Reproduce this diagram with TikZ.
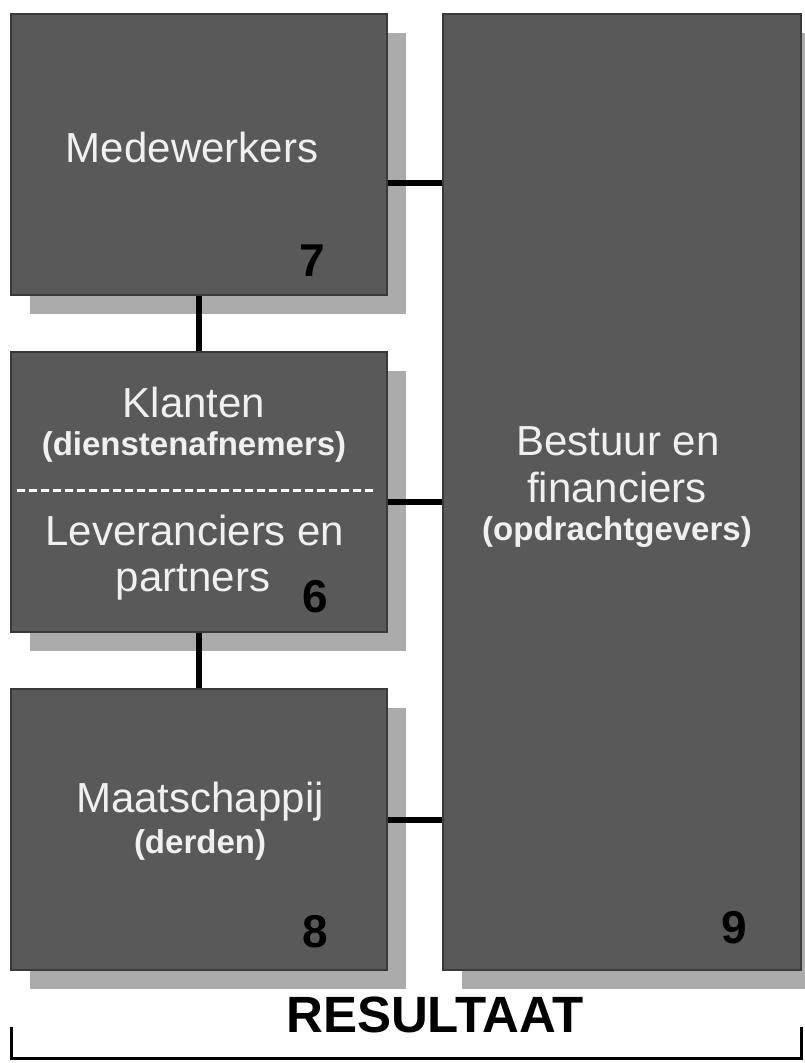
\documentclass[tikz,border=0pt]{standalone}
\usepackage{fontspec}
\setmainfont{Liberation Sans}
\usepackage{tikz}
\usetikzlibrary{positioning}
\usetikzlibrary{shadows}
\definecolor{boxgray}{HTML}{595959}
\definecolor{shadegray}{HTML}{ABABAB}
\definecolor{edgegray}{HTML}{3A3A3A}
\tikzstyle{area}=[draw=edgegray, line width=1.2pt, fill=boxgray, rectangle, inner sep=0pt,
  drop shadow={shadow xshift=19pt, shadow yshift=-19pt, fill=shadegray, opacity=1}]
\tikzstyle{title}=[anchor=base, text=white!94!black, inner sep=0pt, font=\fontsize{42}{50}\selectfont]
\tikzstyle{sub}=[anchor=base, text=white!94!black, inner sep=0pt, font=\bfseries\fontsize{33}{40}\selectfont]
\tikzstyle{num}=[anchor=base, text=black, inner sep=0pt, font=\bfseries\fontsize{46}{50}\selectfont]
\tikzstyle{link}=[line width=6pt, black]

\begin{document}
\begin{tikzpicture}[x=1pt, y=-1pt]
            \useasboundingbox (0,0) rectangle (804,1063);

            \node[area, minimum width=358pt, minimum height=956pt] (b9) at (622,492) {};
            \node[area, minimum width=376pt, minimum height=281pt] (m7) at (199,154.5) {};
            \node[area, minimum width=376pt, minimum height=280pt] (k6) at (199,492) {};
            \node[area, minimum width=376pt, minimum height=281pt] (m8) at (199,829.5) {};

            \node[title] (t7) at (192,162) {Medewerkers};
            \node[num] (n7) at (312,276) {7};

            \node[title] (t6a) at (194,417) {Klanten};
            \node[sub] (s6a) at (194,455) {(dienstenafnemers)};
            \node[title] (t6b) at (195,545) {Leveranciers en};
            \node[title] (t6c) at (193,591) {partners};
            \node[num] (n6) at (315,612) {6};

            \node[title] (t8) at (200,812) {Maatschappij};
            \node[sub] (s8) at (200,853) {(derden)};
            \node[num] (n8) at (315,947) {8};

            \node[title] (t9a) at (618,455) {Bestuur en};
            \node[title] (t9b) at (617,502) {financiers};
            \node[sub] (s9) at (617,540) {(opdrachtgevers)};
            \node[num] (n9) at (734,943) {9};

            \draw[white, line width=3pt, dash pattern=on 8pt off 4pt] (17,490) -- (373,490);

            \draw[link] (m7.south) -- (k6.north);
            \draw[link] (k6.south) -- (m8.north);
            \draw[link] ([yshift=-28.5pt]m7.east) -- ([yshift=-28.5pt]m7.east -| b9.west);
            \draw[link] ([yshift=-10pt]k6.east) -- ([yshift=-10pt]k6.east -| b9.west);
            \draw[link] ([yshift=9.5pt]m8.east) -- ([yshift=9.5pt]m8.east -| b9.west);

            \coordinate (bl) at (11,1027);
            \coordinate (br) at (801,1027);
            \draw[line width=3pt] (bl) |- (801,1058) -- (br);
            \node[anchor=base, inner sep=0pt, font=\bfseries\fontsize{51}{56}\selectfont] (res) at (435,1032) {RESULTAAT};
        \end{tikzpicture}
\end{document}
